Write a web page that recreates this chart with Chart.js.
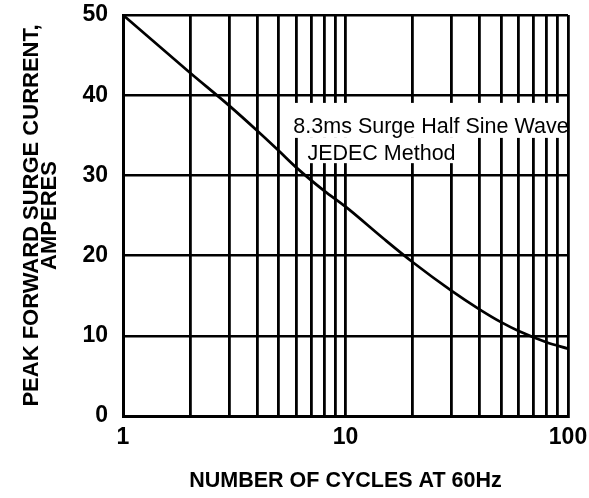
<!DOCTYPE html>
<html>
<head>
<meta charset="utf-8">
<script src="https://cdn.jsdelivr.net/npm/chart.js@4/dist/chart.umd.min.js"></script>
<style>
  html, body { margin: 0; padding: 0; background: #fff; }
  #wrap { width: 589px; height: 498px; }
</style>
</head>
<body>
<div id="wrap"><canvas id="chart"></canvas></div>
<script>
// values
const cycles = [1, 2, 3, 4, 5, 6, 8, 10, 15, 20, 30, 40, 50, 60, 80, 100];
const current = [50, 42.8, 38.7, 35.6, 33.1, 31.0, 28.1, 26.1, 22.0, 19.2, 15.6, 13.3, 11.7, 10.6, 9.2, 8.4];
const xGridValues = [1, 2, 3, 4, 5, 6, 7, 8, 9, 10, 20, 30, 40, 50, 60, 70, 80, 90, 100];
const xLabelValues = [1, 10, 100];
const yTicks = [0, 10, 20, 30, 40, 50];
const noteLines = ['8.3ms Surge Half Sine Wave', 'JEDEC Method'];
const noteX = [5.83, 6.74];
const noteY = [35.3, 31.9];

const FONT = '"Liberation Sans", Arial, sans-serif';

// scales get no extra edge padding, layout padding alone sets the plot box
function noPad(s) {
  s.paddingTop = 0;
  s.paddingBottom = 0;
  s.paddingLeft = 0;
  s.paddingRight = 0;
}

// white-backed note text over the grid
const notePlugin = {
  id: 'note',
  beforeDatasetsDraw(chart) {
    const { ctx, chartArea, scales: { x, y } } = chart;
    ctx.save();
    ctx.font = '21.5px ' + FONT;
    ctx.textBaseline = 'alphabetic';
    let prevBottom = null;
    noteLines.forEach((t, i) => {
      const px = x.getPixelForValue(noteX[i]);
      const py = y.getPixelForValue(noteY[i]);
      const w = ctx.measureText(t).width;
      const top = prevBottom === null ? py - 30 : prevBottom;
      const bottom = py + (i === 0 ? 5 : 3);
      const right = i === 0 ? chartArea.right - 2 : px + w + 3;
      ctx.fillStyle = '#fff';
      ctx.fillRect(px - 3, top, right - px + 3, bottom - top);
      prevBottom = bottom;
    });
    ctx.fillStyle = '#000';
    noteLines.forEach((t, i) => {
      ctx.fillText(t, x.getPixelForValue(noteX[i]), y.getPixelForValue(noteY[i]));
    });
    ctx.restore();
  }
};

new Chart(document.getElementById('chart'), {
  type: 'line',
  data: {
    datasets: [{
      data: cycles.map((c, i) => ({ x: c, y: current[i] })),
      borderColor: '#000',
      borderWidth: 2.7,
      pointRadius: 0,
      fill: false,
      cubicInterpolationMode: 'monotone'
    }]
  },
  options: {
    responsive: true,
    maintainAspectRatio: false,
    animation: false,
    devicePixelRatio: 1,
    layout: { padding: { top: 15, right: 21, bottom: 0, left: 0 } },
    plugins: { legend: { display: false }, tooltip: { enabled: false } },
    scales: {
      x: {
        type: 'logarithmic',
        min: 1,
        max: 100,
        afterBuildTicks: s => { s.ticks = xGridValues.map(v => ({ value: v })); },
        afterFit: s => { s.height = 82; noPad(s); },
        ticks: {
          autoSkip: false,
          maxRotation: 0,
          padding: 8,
          color: '#000',
          font: { family: FONT, size: 23, weight: 'bold' },
          callback: v => xLabelValues.includes(v) ? String(v) : ''
        },
        grid: { color: '#000', lineWidth: 2.8, drawTicks: false },
        border: { color: '#000', width: 3 },
        title: {
          display: true,
          text: 'NUMBER OF CYCLES AT 60Hz',
          color: '#000',
          font: { family: FONT, size: 21.5, weight: 'bold' },
          padding: { top: 0, bottom: 4 }
        }
      },
      y: {
        min: 0,
        max: 50,
        afterBuildTicks: s => { s.ticks = yTicks.map(v => ({ value: v })); },
        afterFit: s => { s.width = 123; noPad(s); },
        ticks: {
          padding: 15,
          color: '#000',
          font: { family: FONT, size: 23, weight: 'bold' }
        },
        grid: { color: '#000', lineWidth: 2.4, drawTicks: false },
        border: { color: '#000', width: 3 },
        title: {
          display: true,
          text: ['PEAK FORWARD SURGE CURRENT,', 'AMPERES'],
          color: '#000',
          font: { family: FONT, size: 22, weight: 'bold', lineHeight: '18px' },
          padding: { top: 23, bottom: 0 }
        }
      }
    }
  },
  plugins: [notePlugin]
});
</script>
</body>
</html>
